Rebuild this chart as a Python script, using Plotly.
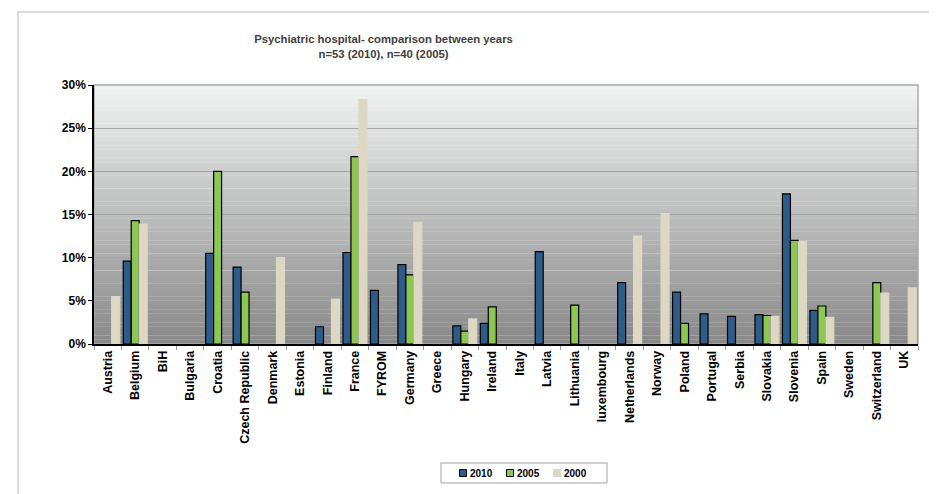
import plotly.graph_objects as go

###### DATA ######
countries = ['Austria', 'Belgium', 'BiH', 'Bulgaria', 'Croatia', 'Czech Republic', 'Denmark',
             'Estonia', 'Finland', 'France', 'FYROM', 'Germany', 'Greece', 'Hungary', 'Ireland',
             'Italy', 'Latvia', 'Lithuania', 'luxembourg', 'Netherlands', 'Norway', 'Poland',
             'Portugal', 'Serbia', 'Slovakia', 'Slovenia', 'Spain', 'Sweden', 'Switzerland', 'UK']

# values in percent, None = no bar
y2010 = [None, 9.6, None, None, 10.5, 8.9, None, None, 2.0, 10.6, 6.2, 9.2, None, 2.1, 2.4,
         None, 10.7, None, None, 7.1, None, 6.0, 3.5, 3.2, 3.4, 17.4, 3.9, None, None, None]
y2005 = [None, 14.3, None, None, 20.0, 6.0, None, None, None, 21.7, None, 8.0, None, 1.5, 4.3,
         None, None, 4.5, None, None, None, 2.4, None, None, 3.3, 12.0, 4.4, None, 7.1, None]
y2000 = [5.5, 13.9, None, None, None, None, 10.0, None, 5.2, 28.3, None, 14.1, None, 2.9, None,
         None, None, None, None, 12.5, 15.1, None, None, None, 3.2, 11.9, 3.1, None, 5.9, 6.5]

series = [('2010', y2010, '#2D5C8A', 'black'),
          ('2005', y2005, '#8CC653', 'black'),
          ('2000', y2000, '#DDD8C3', '#DDD8C3')]

y_ticks = [0, 5, 10, 15, 20, 25, 30]

###### LAYOUT HELPERS ######
# page body has an 8px margin, so the figure is a bit smaller than the window
W, H = 929, 486
ML, MR, MT, MB = 86, 19, 77, 150
PW, PH = W - ML - MR, H - MT - MB


def px_x(x):  # window pixel -> paper x
    return (x - 8 - ML) / PW


def px_y(y):  # window pixel -> paper y
    return (H - MB - (y - 8)) / PH


###### PLOT ######
fig = go.Figure()
for name, vals, fill, edge in series:
    fig.add_trace(go.Bar(
        x=countries, y=vals, name=name, showlegend=False,
        marker=dict(color=fill, line=dict(color=edge, width=1.2)),
    ))

shapes = []
annotations = []

# grey gradient behind the bars (light top -> dark bottom)
n = 60
top_rgb, bot_rgb = (242, 243, 243), (136, 136, 136)
for i in range(n):
    t = (i + 0.5) / n
    c = [round(bot_rgb[k] + (top_rgb[k] - bot_rgb[k]) * t) for k in range(3)]
    shapes.append(dict(type='rect', xref='paper', yref='paper', x0=0, x1=1,
                       y0=i / n, y1=min(1, (i + 1.05) / n), layer='below',
                       fillcolor='rgb(%d,%d,%d)' % tuple(c), line=dict(width=0)))
# plot area outline (top/right grey)
shapes.append(dict(type='rect', xref='paper', yref='paper', x0=0, x1=1, y0=0, y1=1,
                   layer='below', line=dict(color='#A8A8A8', width=1.5)))
# outer chart frame
shapes.append(dict(type='rect', xref='paper', yref='paper', x0=px_x(18), x1=px_x(945),
                   y0=px_y(505), y1=px_y(12), layer='below',
                   line=dict(color='#D0D0D0', width=1.5)))

# legend box drawn by hand (small squares like the original)
shapes.append(dict(type='rect', xref='paper', yref='paper', x0=px_x(441), x1=px_x(607),
                   y0=px_y(483), y1=px_y(463), line=dict(color='#A0A0A0', width=1),
                   fillcolor='white'))
for i, (name, vals, fill, edge) in enumerate(series):
    cx = 463 + 47 * i
    shapes.append(dict(type='rect', xref='paper', yref='paper',
                       x0=px_x(cx - 3.5), x1=px_x(cx + 3.5),
                       y0=px_y(476.5), y1=px_y(469.5), fillcolor=fill,
                       line=dict(color=edge, width=1)))
    annotations.append(dict(text=name, xref='paper', yref='paper', x=px_x(cx + 5),
                            y=px_y(473), xanchor='left', yanchor='middle', showarrow=False,
                            font=dict(size=10, weight='bold', color='black')))

fig.update_layout(
    width=W, height=H,
    margin=dict(l=ML, r=MR, t=MT, b=MB, autoexpand=False),
    paper_bgcolor='white', plot_bgcolor='rgba(0,0,0,0)',
    font=dict(family='Liberation Sans, Arial, sans-serif', color='black'),
    title=dict(
        text='Psychiatric hospital- comparison between years<br>n=53 (2010), n=40 (2005)',
        x=px_x(383.5), xref='paper', xanchor='center',
        y=1 - (43 - 8) / H, yanchor='middle',
        font=dict(family='Liberation Sans, Arial, sans-serif',
                  size=11.3, color='#404040', weight='bold'),
    ),
    barmode='group', bargap=0.13, bargroupgap=0,
    shapes=shapes, annotations=annotations,
    showlegend=False,
)

fig.update_xaxes(
    type='category', tickangle=-90, tickfont=dict(size=12.5, weight='bold'),
    showline=True, linecolor='black', linewidth=1.5,
    ticks='outside', tickson='boundaries', ticklen=4, tickcolor='#999999',
    showgrid=False,
)
fig.update_yaxes(
    range=[0, 30], tickvals=y_ticks, ticktext=['%d%%' % v for v in y_ticks],
    tickfont=dict(size=12, weight='bold'),
    showline=True, linecolor='black', linewidth=1.5,
    ticks='outside', ticklen=4, tickcolor='black',
    showgrid=True, gridcolor='#A6A6A6', gridwidth=1, zeroline=False,
)

fig.write_html("out.html")
